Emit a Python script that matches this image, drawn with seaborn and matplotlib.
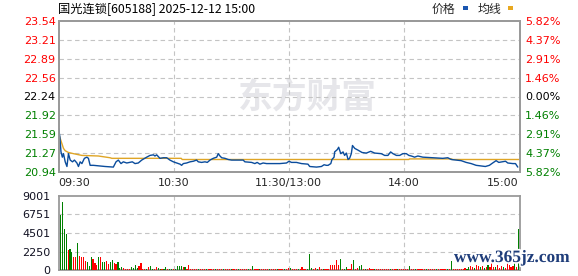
import numpy as np
import pandas as pd
import matplotlib
matplotlib.use("Agg")
import matplotlib.pyplot as plt
import matplotlib.patheffects as pe
from matplotlib.patches import Rectangle
import seaborn as sns

# ---------------- data ----------------
stock_name = "国光连锁"
stock_code = "605188"
stamp = "2025-12-12 15:00"

prev_close = 22.24
max_pct = 5.82

left_labels = ["23.54", "23.21", "22.89", "22.56", "22.24", "21.92", "21.59", "21.27", "20.94"]
right_labels = ["5.82%", "4.37%", "2.91%", "1.46%", "0.00%", "1.46%", "2.91%", "4.37%", "5.82%"]
label_side = ["up", "up", "up", "up", "flat", "down", "down", "down", "down"]

time_ticks = [0, 60, 120, 180, 240]
time_labels = ["09:30", "10:30", "11:30/13:00", "14:00", "15:00"]

vol_ticks = [0, 2250, 4501, 6751, 9001]
vol_labels = ["0", "2250", "4501", "6751", "9001"]

# price line (minutes after 09:30, trading time)
price_min = [0, 0.7, 1.3, 2, 2.6, 3.5, 4.4, 5.2, 6.1, 7.3, 8.3, 9.6, 10.4, 11.3, 12.2, 13.5,
             14.8, 15.6, 16.5, 18.2, 24.3, 28.6, 30, 31.2, 32.6, 33.8, 35.6, 38.5, 39.9, 41.6,
             43.4, 46, 47.7, 49.5, 50.3, 51.2, 52.9, 54.7, 56.4, 58.1, 59.9, 61.6, 63.4, 64.2,
             65.1, 66.8, 68.6, 70.3, 72, 72.9, 74.6, 76.4, 77.6, 79, 80.7, 82.5, 83.3, 84.2,
             85.1, 86.8, 88.5, 90.3, 96.3, 97.2, 100.7, 102.4, 103.6, 105, 106.7, 108.5, 115.4,
             118.9, 120.2, 121.5, 124.1, 126.7, 130.1, 131, 134.5, 137.1, 138.5, 139.7, 140.6,
             142, 142.6, 143.7, 144, 145.4, 146.1, 147.2, 148.4, 149.2, 150.1, 151, 151.8, 152.7,
             153.3, 154.5, 156.2, 158.3, 160.5, 162.8, 164.9, 168.3, 170.1, 171.8, 173.2, 174.4,
             176.2, 177.9, 179.6, 181.4, 182.7, 184, 185.7, 187.4, 190, 195.2, 200.4, 203, 204.8,
             207.4, 210, 212.6, 215.2, 217.8, 222.6, 224.7, 226.4, 228.2, 229.6, 233.1, 234.3,
             236.9, 238.3, 239.5]
price_val = [21.70, 21.55, 21.29, 21.20, 21.26, 21.12, 21.04, 21.26, 21.15, 21.12, 21.15, 21.10,
             21.04, 21.12, 21.09, 21.18, 21.20, 21.18, 21.06, 21.06, 21.04, 21.03, 21.12, 21.15,
             21.09, 21.12, 21.10, 21.12, 21.09, 21.10, 21.15, 21.20, 21.23, 21.24, 21.22, 21.24,
             21.18, 21.19, 21.19, 21.15, 21.12, 21.10, 21.08, 21.06, 21.09, 21.10, 21.12, 21.13,
             21.15, 21.12, 21.11, 21.12, 21.11, 21.15, 21.18, 21.20, 21.26, 21.22, 21.19, 21.18,
             21.16, 21.15, 21.15, 21.12, 21.11, 21.09, 21.11, 21.08, 21.10, 21.09, 21.09, 21.10,
             21.13, 21.11, 21.11, 21.09, 21.08, 21.04, 21.03, 21.04, 21.07, 21.06, 21.06, 21.09,
             21.16, 21.20, 21.29, 21.33, 21.37, 21.26, 21.29, 21.23, 21.27, 21.16, 21.18, 21.26,
             21.40, 21.35, 21.32, 21.28, 21.27, 21.30, 21.27, 21.26, 21.23, 21.23, 21.29, 21.26,
             21.23, 21.23, 21.26, 21.26, 21.23, 21.22, 21.20, 21.22, 21.20, 21.19, 21.18, 21.19,
             21.16, 21.15, 21.14, 21.11, 21.09, 21.06, 21.04, 21.06, 21.10, 21.14, 21.11, 21.13,
             21.10, 21.09, 21.09, 21.03]

# average-price line
avg_min = [0, 0.9, 1.8, 2.6, 3.5, 5.2, 7.8, 12.2, 20.8, 26.9, 27.8, 64, 64.5, 182.7, 183, 205, 205.5, 240]
avg_val = [21.61, 21.52, 21.43, 21.35, 21.31, 21.28, 21.26, 21.23, 21.22, 21.19, 21.18, 21.18,
           21.16, 21.16, 21.17, 21.17, 21.16, 21.16]

# per-minute volume (minutes 1..240) and bar direction
volume = [
    6690, 8300, 4990, 4420, 2430, 2550, 2230, 1580, 1580, 3280,
    1700, 1580, 1580, 1090, 970, 520, 1580, 1340, 850, 610,
    1580, 1580, 970, 970, 1090, 730, 970, 1220, 850, 730,
    970, 240, 360, 240, 120, 120, 120, 360, 240, 610,
    200, 490, 890, 150, 150, 150, 400, 490, 150, 120,
    360, 280, 150, 120, 120, 320, 120, 120, 150, 120,
    150, 450, 490, 450, 320, 360, 150, 610, 150, 120,
    120, 150, 120, 120, 150, 120, 120, 150, 120, 120,
    150, 120, 120, 150, 120, 120, 150, 120, 120, 120,
    120, 150, 120, 120, 150, 120, 120, 150, 120, 150,
    450, 150, 120, 120, 150, 120, 120, 150, 120, 120,
    150, 120, 120, 150, 120, 120, 150, 120, 150, 280,
    200, 150, 150, 150, 120, 150, 320, 150, 150, 150,
    1950, 200, 150, 200, 150, 320, 150, 150, 120, 150,
    150, 570, 570, 570, 1220, 570, 1300, 150, 150, 320,
    150, 150, 730, 1180, 150, 280, 490, 570, 150, 150,
    150, 200, 150, 120, 150, 120, 120, 150, 120, 120,
    150, 120, 120, 150, 120, 120, 150, 120, 120, 150,
    120, 150, 450, 120, 150, 120, 120, 150, 120, 150,
    120, 150, 120, 120, 150, 120, 120, 150, 120, 150,
    120, 150, 120, 150, 1050, 150, 120, 150, 150, 150,
    150, 200, 150, 400, 520, 400, 300, 610, 520, 370,
    520, 250, 400, 610, 370, 800, 400, 400, 610, 250,
    520, 400, 250, 800, 610, 400, 500, 800, 400, 4990,
]
direction = list(
    "GGGGRGGRRG" "RRRRGGGRRR" "GRGGRRGGRR" "GGGRRRRGGG" "GRRRRGRGGR"
    "RGGRGGRGGR" "GGGGRGRRRR" "RRGRRRGRRR" "RGRRRGRRRG" "RRRGRRRRGR"
    "GRRRGRRRRG" "RRRGRRRGRR" "GRRRGRRRRG" "GGRRGRRGRR" "RRRRRRGRGG"
    "RRRGRRGGRG" "RRRRGRRRRR" "RRGRRRGRRR" "RRGRRGRRRR" "RGRRRRGRRR"
    "RRGRGRRRRR" "RRGGRRGRRG" "RGRGRRRGRR" "RGRRRRRGRG"
)
vol_minute = list(range(1, 241))

# ---------------- style ----------------
sns.set_style("white")
plt.rcParams["font.family"] = ["DejaVu Sans", "Noto Sans CJK SC"]

RED = "#ff0000"
GREEN = "#008000"
BLUE = "#0a4c9c"
ORANGE = "#dfa526"
GRID = "#c4c4c4"
SPINE = "#9a9a9a"
DASH = (0, (4, 3))

W, H = 578, 276
fig = plt.figure(figsize=(W / 100, H / 100), dpi=100)
fig.patch.set_facecolor("white")


def px_axes(x0, y0, x1, y1):
    return fig.add_axes([x0 / W, 1 - y1 / H, (x1 - x0) / W, (y1 - y0) / H])


ax = px_axes(58.5, 21, 519.5, 172)
axv = px_axes(58.5, 196, 519.5, 270)

XMAX = 240.4
lo = prev_close * (1 - max_pct / 100)
hi = prev_close * (1 + max_pct / 100)
yt = np.linspace(hi, lo, 9)

# ---------------- price panel ----------------
ax.hlines(yt[1:-1], 0, XMAX, colors=GRID, linestyles=[DASH], lw=0.8, zorder=1)
ax.vlines(time_ticks[1:-1], lo, hi, colors=GRID, linestyles=[DASH], lw=0.8, zorder=1)

price_df = pd.DataFrame({"minute": price_min, "price": price_val})
avg_df = pd.DataFrame({"minute": avg_min, "avg": avg_val})
sns.lineplot(data=avg_df, x="minute", y="avg", color=ORANGE, lw=1.0, ax=ax, zorder=3)
sns.lineplot(data=price_df, x="minute", y="price", color=BLUE, lw=1.0, ax=ax, zorder=4)

ax.set_xlim(0, XMAX)
ax.set_ylim(lo, hi)
ax.set_xlabel("")
ax.set_ylabel("")
ax.set_yticks(yt)
ax.set_yticklabels(left_labels)
ax.set_xticks(time_ticks)
ax.set_xticklabels(time_labels)
ax.tick_params(axis="both", length=0, labelsize=8)
ax.tick_params(axis="y", pad=2)
ax.tick_params(axis="x", pad=4)
side_color = {"up": RED, "flat": "black", "down": GREEN}
for lab, s in zip(ax.get_yticklabels(), label_side):
    lab.set_color(side_color[s])
xl = ax.get_xticklabels()
xl[0].set_horizontalalignment("left")
xl[-1].set_horizontalalignment("right")
ax.grid(False)

ax2 = ax.twinx()
ax2.set_ylim(lo, hi)
ax2.set_yticks(yt)
ax2.set_yticklabels(right_labels)
ax2.tick_params(axis="y", length=0, labelsize=8, pad=4)
for lab, s in zip(ax2.get_yticklabels(), label_side):
    lab.set_color(side_color[s])
ax2.grid(False)

for a in (ax, ax2):
    for sp in a.spines.values():
        sp.set_color(SPINE)
        sp.set_linewidth(1.3)

# watermark
ax.text(307 / W, 1 - 97 / H, "东方财富", transform=fig.transFigure, ha="center", va="center",
        fontsize=25, fontweight="bold", color="#e6e6ea", family=["Noto Sans CJK SC"], zorder=0.5)

# ---------------- volume panel ----------------
vol_df = pd.DataFrame({"minute": vol_minute, "volume": volume, "dir": direction})
sns.histplot(data=vol_df, x="minute", weights="volume", hue="dir",
             palette={"R": RED, "G": GREEN}, discrete=True, shrink=0.6, alpha=1,
             linewidth=0, legend=False, ax=axv, zorder=3)
axv.set_xlim(0, XMAX)
axv.set_ylim(0, 9001)
for y in vol_ticks[1:-1]:
    axv.plot([0, XMAX], [y, y], color=GRID, ls=DASH, lw=0.8, zorder=2)
for x in time_ticks[1:-1]:
    axv.plot([x, x], [0, 9001], color=GRID, ls=DASH, lw=0.8, zorder=2)
axv.set_xlim(0, XMAX)
axv.set_ylim(0, 9001)
axv.set_xlabel("")
axv.set_ylabel("")
axv.set_yticks(vol_ticks)
axv.set_yticklabels(vol_labels)
axv.set_xticks(time_ticks)
axv.set_xticklabels([])
axv.tick_params(axis="both", length=0, labelsize=8)
axv.tick_params(axis="y", pad=6, labelcolor="#111122")
axv.grid(False)
for sp in axv.spines.values():
    sp.set_color(SPINE)
    sp.set_linewidth(1.3)

# ---------------- header ----------------
fig.text(58 / W, 1 - 9 / H, f"{stock_name}[{stock_code}] {stamp}", ha="left", va="center",
         fontsize=8.8, color="black", family=["Noto Sans CJK SC", "DejaVu Sans"])
fig.text(443 / W, 1 - 9 / H, "价格", ha="center", va="center", fontsize=8.6,
         family=["Noto Sans CJK SC", "DejaVu Sans"])
fig.text(489 / W, 1 - 9 / H, "均线", ha="center", va="center", fontsize=8.6,
         family=["Noto Sans CJK SC", "DejaVu Sans"])
fig.add_artist(Rectangle((462.7 / W, 1 - 9.5 / H), 5 / W, 3 / H, transform=fig.transFigure,
                         color="#1a56b0", lw=0))
fig.add_artist(Rectangle((508 / W, 1 - 9.5 / H), 5 / W, 3 / H, transform=fig.transFigure,
                         color="#e8a820", lw=0))

# site watermark
fig.text(512 / W, 1 - 258 / H, "www.365jz.com", ha="center", va="center", fontsize=12.5,
         fontweight="bold", color="#1f3d7a", family=["Liberation Serif"],
         path_effects=[pe.withStroke(linewidth=2.5, foreground="white")], zorder=10)

fig.savefig("out.png", dpi=100, facecolor="white")
